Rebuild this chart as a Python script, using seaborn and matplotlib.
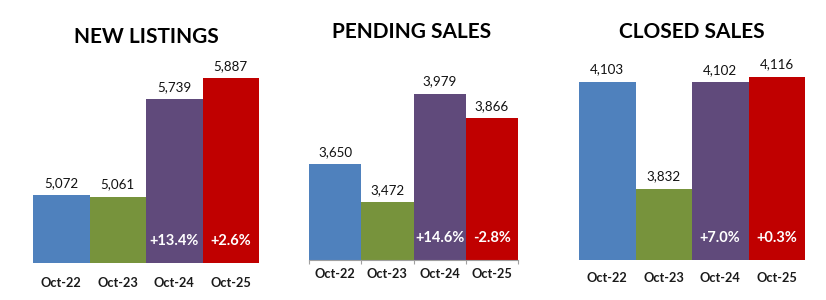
import matplotlib
matplotlib.use("Agg")
import matplotlib.pyplot as plt
import seaborn as sns
import pandas as pd

# ---- data ----
periods = ["Oct-22", "Oct-23", "Oct-24", "Oct-25"]
titles = ["NEW LISTINGS", "PENDING SALES", "CLOSED SALES"]
new_listings = [5072, 5061, 5739, 5887]
pending_sales = [3650, 3472, 3979, 3866]
closed_sales = [4103, 3832, 4102, 4116]
pct_new = ["", "", "+13.4%", "+2.6%"]
pct_pending = ["", "", "+14.6%", "-2.8%"]
pct_closed = ["", "", "+7.0%", "+0.3%"]
colors = ["#4F81BD", "#77933C", "#604A7B", "#C00000"]

sns.set_theme(style="white")
plt.rcParams["font.family"] = ["Lato", "DejaVu Sans"]

W, H = 826, 300
fig = plt.figure(figsize=(W / 100, H / 100), dpi=100)

# panel layout in pixels: left, right, baseline(y), top(y), ylim bottom, ylim top, title (x,y)
panels = [
    dict(vals=new_listings, pct=pct_new, title=titles[0], l=33, r=259, base=263, top=40,
         ylo=4598, yhi=4598 + 223 * 6.966, tx=146, ty=37, ticks=False, lpad=10),
    dict(vals=pending_sales, pct=pct_pending, title=titles[1], l=309, r=518, base=260, top=40,
         ylo=3200, yhi=3200 + 220 * 4.69, tx=412, ty=32, ticks=True, lpad=6),
    dict(vals=closed_sales, pct=pct_closed, title=titles[2], l=579, r=805, base=260, top=40,
         ylo=3652, yhi=3652 + 220 * 2.53, tx=692, ty=32, ticks=False, lpad=9),
]

for p in panels:
    ax = fig.add_axes([p["l"] / W, 1 - p["base"] / H, (p["r"] - p["l"]) / W, (p["base"] - p["top"]) / H])
    df = pd.DataFrame({"period": periods, "value": p["vals"]})
    sns.barplot(data=df, x="period", y="value", hue="period", palette=colors,
                width=1.0, ax=ax, legend=False, saturation=1, linewidth=0)
    ax.set_xlim(-0.5, 3.5)
    ax.set_ylim(p["ylo"], p["yhi"])
    ax.set_xlabel("")
    ax.set_ylabel("")
    ax.set_yticks([])
    for s in ["top", "right", "left"]:
        ax.spines[s].set_visible(False)
    if p["ticks"]:
        ax.spines["bottom"].set_color("#A0A0A0")
        ax.spines["bottom"].set_linewidth(0.8)
        ax.set_xticks([-0.5, 0.5, 1.5, 2.5, 3.5], minor=True)
        ax.tick_params(axis="x", which="minor", length=3, width=0.8, color="#A0A0A0", direction="out", bottom=True)
    else:
        ax.spines["bottom"].set_visible(False)
    ax.tick_params(axis="x", which="major", length=0, pad=p["lpad"])
    ax.set_xticks(range(len(periods)))
    ax.set_xticklabels(periods, fontsize=9.2, fontweight="bold", color="#1a1a1a")

    for c in ax.containers:
        ax.bar_label(c, labels=[f"{v:,.0f}" for v in c.datavalues], padding=4.5,
                     fontsize=9.6, color="#111111")
    for i, t in enumerate(p["pct"]):
        if t:
            ax.annotate(t, xy=(i, p["ylo"]), xytext=(0, 15.5), textcoords="offset points",
                        ha="center", va="center", fontsize=10.5, fontweight="bold", color="white")

    fig.text(p["tx"] / W, 1 - p["ty"] / H, p["title"], ha="center", va="center",
             fontsize=15, fontweight="bold", color="black")

fig.savefig("out.png", dpi=100, facecolor="white")
